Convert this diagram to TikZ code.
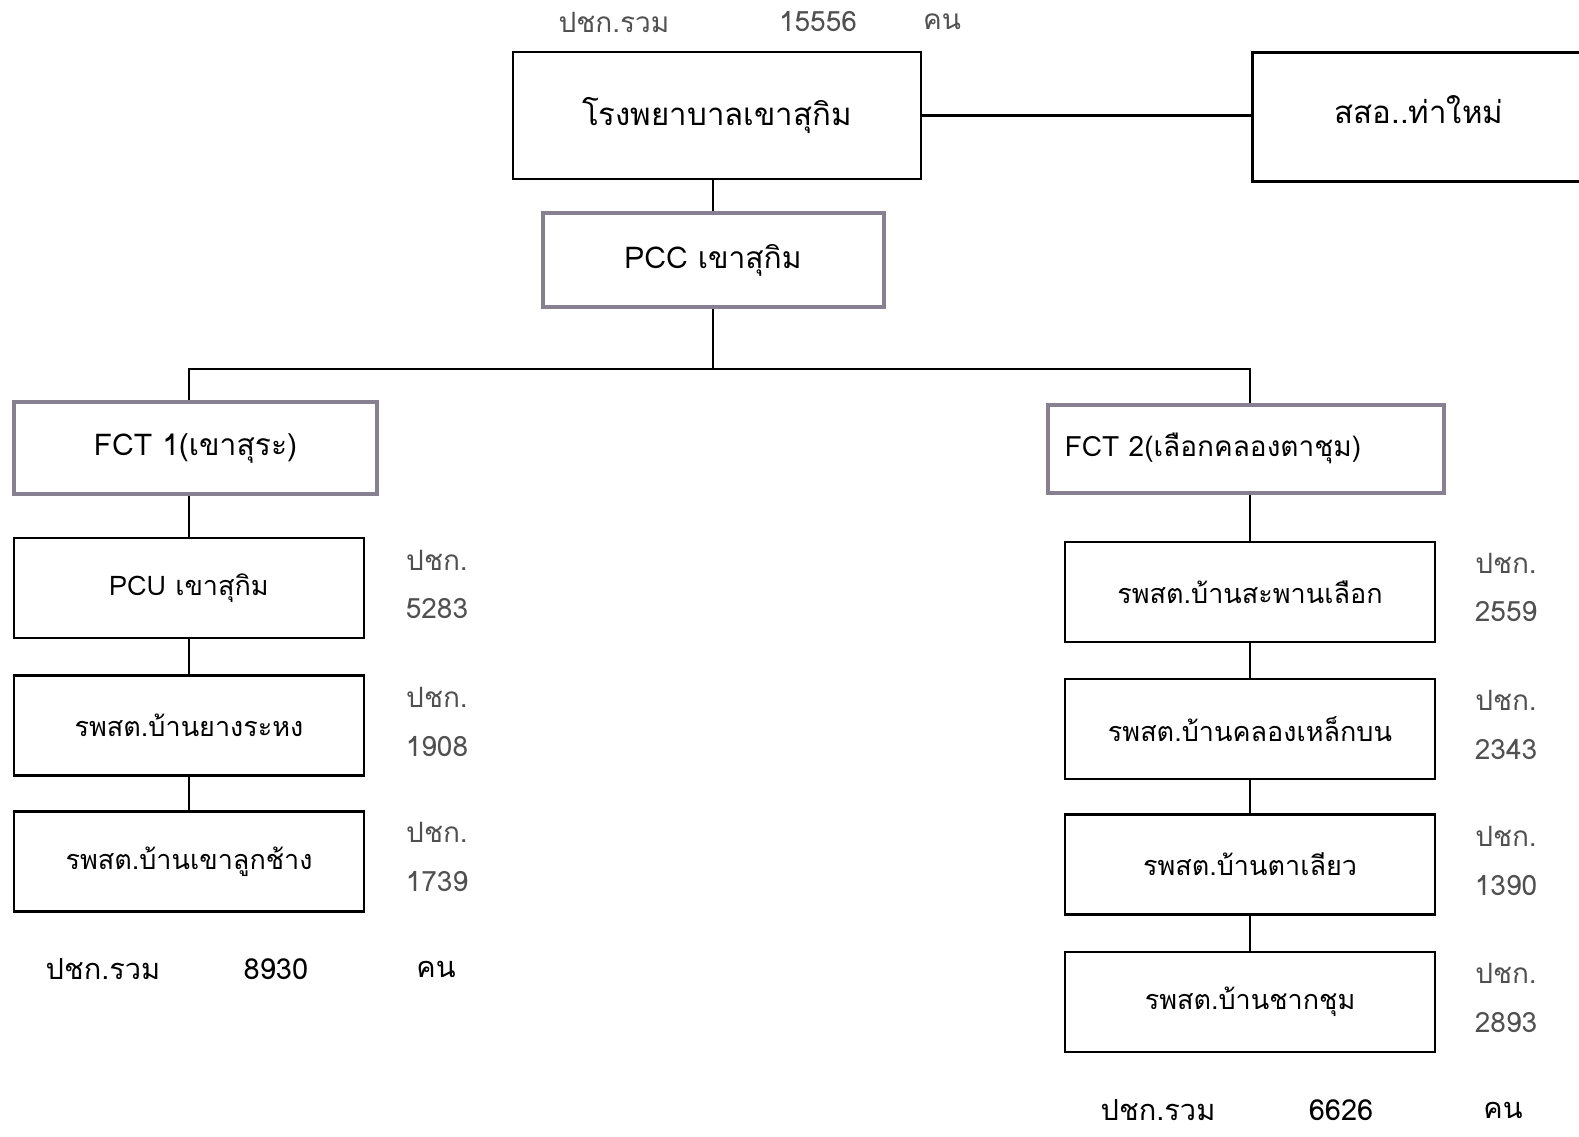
\documentclass[tikz,border=0pt]{standalone}
\usepackage{fontspec}
\setmainfont[Script=Thai]{Loma}
\definecolor{lblgray}{RGB}{80,80,80}
\definecolor{fctborder}{RGB}{135,128,145}
\begin{document}
\begin{tikzpicture}[x=0.5pt,y=-0.5pt,
  box/.style={draw=black, line width=1.3pt, rectangle, inner sep=0pt, fill=white},
  gbox/.style={draw=fctborder, line width=2pt, rectangle, inner sep=0pt, fill=white},
  conn/.style={draw=black, line width=1.4pt},
  bigtxt/.style={font=\fontsize{15.6}{19}\selectfont},
  midtxt/.style={font=\fontsize{15}{18}\selectfont},
  smtxt/.style={font=\fontsize{13.5}{16}\selectfont},
  lbl/.style={font=\fontsize{14}{17}\selectfont, text=lblgray, inner sep=0pt},
  tot/.style={font=\fontsize{14.5}{17}\selectfont, text=black, inner sep=0pt},
  lcol/.style={box, smtxt, minimum width=175pt, minimum height=50pt},
  rcol/.style={box, smtxt, minimum width=185pt, minimum height=50pt}
]
\useasboundingbox[fill=white] (0,0) rectangle (1579,1136);

% top
\node[lbl] (t1) at (614,22) {ปชก.รวม};
\node[lbl] (t2) at (818,22) {15556};
\node[lbl] (t3) at (942,22) {คน};
\node[box, bigtxt, minimum width=204pt, minimum height=63.5pt] (hosp) at (717,115.5) {โรงพยาบาลเขาสุกิม};
\node[inner sep=0pt, minimum width=163pt, minimum height=64pt] (sso) at (1416,117) {};
\node[bigtxt, inner sep=0pt] (ssot) at (1419,110) {สสอ..ท่าใหม่};
\draw[conn] (sso.north east) -- (sso.north west) -- (sso.south west) -- (sso.south east);
\draw[conn] (hosp.east) -- (hosp.east -| sso.west);

\node[gbox, midtxt, minimum width=170.5pt, minimum height=47pt] (pcc) at (713,260) {PCC เขาสุกิม};
\draw[conn] (pcc.north |- hosp.south) -- (pcc.north);

% FCT level
\coordinate (j) at (713,369);
\node[gbox, midtxt, minimum width=181.5pt, minimum height=46pt] (fct1) at (195.5,448) {FCT 1(เขาสุระ)};
\node[gbox, minimum width=198pt, minimum height=44pt] (fct2) at (1246,449) {};
\node[font=\fontsize{14}{17}\selectfont, inner sep=0pt] (fct2t) at (1213,448) {FCT 2(เลือกคลองตาชุม)};

% left column
\node[lcol] (pcu) at (189,588) {PCU เขาสุกิม};
\node[lcol] (yang) at (189,725.5) {รพสต.บ้านยางระหง};
\node[lcol] (khao) at (189,861.5) {รพสต.บ้านเขาลูกช้าง};

% right column
\node[rcol] (saph) at (1250,592) {รพสต.บ้านสะพานเลือก};
\node[rcol] (khlo) at (1250,729) {รพสต.บ้านคลองเหล็กบน};
\node[rcol] (tali) at (1250,864.5) {รพสต.บ้านตาเลียว};
\node[rcol] (chak) at (1250,1002) {รพสต.บ้านชากชุม};

% connectors
\draw[conn] (pcc.south) -- (j);
\draw[conn] (pcu.north |- fct1.north) -- (pcu.north |- j) -- (saph.north |- j) -- (saph.north |- fct2.north);
\draw[conn] (pcu.north |- fct1.south) -- (pcu.north);
\draw[conn] (pcu.south) -- (yang.north);
\draw[conn] (yang.south) -- (khao.north);
\draw[conn] (saph.north |- fct2.south) -- (saph.north);
\draw[conn] (saph.south) -- (khlo.north);
\draw[conn] (khlo.south) -- (tali.north);
\draw[conn] (tali.south) -- (chak.north);

% population labels left
\node[lbl] (pcu1) at (437,560) {ปชก.};
\node[lbl] (pcu2) at (437,609) {5283};
\node[lbl] (yang1) at (437,697) {ปชก.};
\node[lbl] (yang2) at (437,747) {1908};
\node[lbl] (khao1) at (437,832) {ปชก.};
\node[lbl] (khao2) at (437,882) {1739};

% population labels right
\node[lbl] (saph1) at (1506,563) {ปชก.};
\node[lbl] (saph2) at (1506,612) {2559};
\node[lbl] (khlo1) at (1506,700) {ปชก.};
\node[lbl] (khlo2) at (1506,750) {2343};
\node[lbl] (tali1) at (1506,836) {ปชก.};
\node[lbl] (tali2) at (1506,886) {1390};
\node[lbl] (chak1) at (1506,973) {ปชก.};
\node[lbl] (chak2) at (1506,1023) {2893};

% totals
\node[tot] (lt1) at (103,969) {ปชก.รวม};
\node[tot] (lt2) at (276,969) {8930};
\node[tot] (lt3) at (436,969) {คน};
\node[tot] (rt1) at (1158,1110) {ปชก.รวม};
\node[tot] (rt2) at (1341,1110) {6626};
\node[tot] (rt3) at (1503,1110) {คน};
\end{tikzpicture}
\end{document}
